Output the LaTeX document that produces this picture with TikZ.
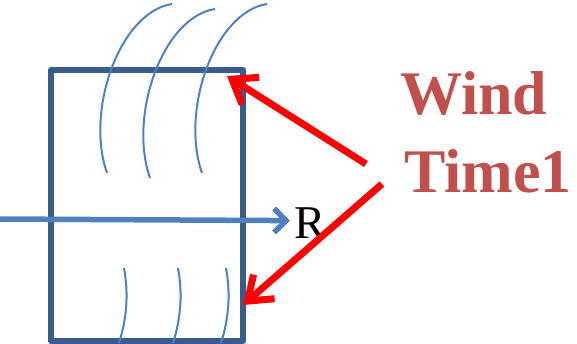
\documentclass[tikz,border=0pt]{standalone}
\usepackage{fontspec}
\setmainfont{Liberation Serif}
\usepackage{xcolor}
\usetikzlibrary{arrows.meta, positioning, calc}

\definecolor{boxblue}{HTML}{385D8A}
\definecolor{windblue}{HTML}{4F81BD}
\definecolor{labelred}{HTML}{C0504D}

\tikzset{
  windline/.style={windblue, line width=2pt},
  pointer/.style={red, line width=7pt, -{Straight Barb[length=22pt,width=32pt]}},
  label/.style={labelred, inner sep=0pt, anchor=base west,
    font=\bfseries\fontsize{62}{72}\selectfont}
}

\begin{document}
\begin{tikzpicture}[x=1pt,y=-1pt]
  \useasboundingbox (0,0) rectangle (577,344);

  % Box
  \node[draw=boxblue, line width=5.5pt, line join=round, inner sep=0pt,
        minimum width=192pt, minimum height=271pt] (box) at (147,205.5) {};

  % Upper wind lines
  \foreach \dx/\dy in {0/0, 43/5, 95/0}
    \draw[windline, shift={(\dx,\dy)}]
      (172,4) .. controls (120,12) and (85,110) .. (107,173);

  % Lower wind lines
  \foreach \dx in {0, 54, 102}
    \draw[windline, shift={(\dx,0)}]
      (124,268) .. controls (128,290) and (128,315) .. (119,343);

  % Axis through the box
  \coordinate (axisstart) at (0,219);
  \node[font=\fontsize{47}{50}\selectfont, inner sep=0pt, anchor=base west] (R) at (294,239) {R};
  \draw[windblue, line width=5.5pt, -{Straight Barb[length=12pt,width=24pt]}]
    (axisstart) -- ($(R.west)+(-4,-3)$);

  % Labels
  \node[label] (wind) at (400,115) {Wind};
  \node[label] (time) at (404,193) {Time1};

  % Pointers
  \coordinate (topstart) at (366,164);
  \coordinate (topend) at (227,76);
  \coordinate (lowstart) at (382,184);
  \coordinate (lowend) at (243,305);
  \draw[pointer] (topstart) -- (topend);
  \draw[pointer] (lowstart) -- (lowend);
\end{tikzpicture}
\end{document}
